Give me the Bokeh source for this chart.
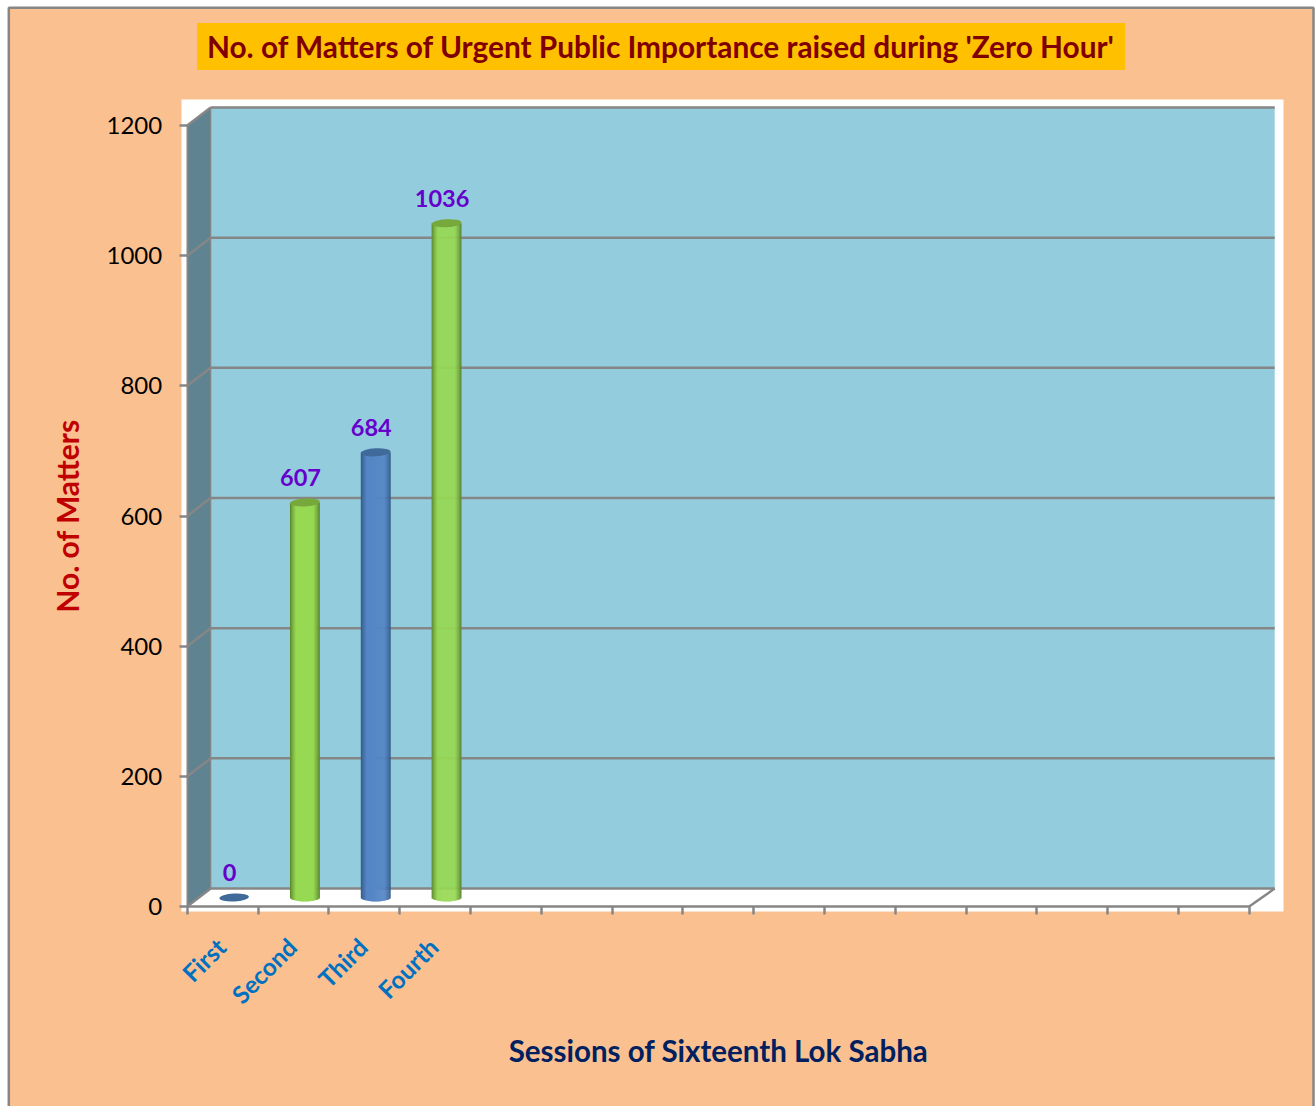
import math
from bokeh.core.properties import value
from bokeh.embed import file_html
from bokeh.models import ColumnDataSource, FixedTicker, Label, LinearAxis, Range1d
from bokeh.plotting import figure
from bokeh.resources import INLINE

sessions = ["First", "Second", "Third", "Fourth"]
matters = [0, 607, 684, 1036]
bar_palette = ["blue", "green", "blue", "green"]
y_ticks = [0, 200, 400, 600, 800, 1000, 1200]
slot_count = 15
chart_title = "No. of Matters of Urgent Public Importance raised during 'Zero Hour'"
x_title = "Sessions of Sixteenth Lok Sabha"
y_title = "No. of Matters"

FONT = "Lato"
PANEL = "#FAC090"
WALL = "#93CDDD"
SIDE = "#5F8391"
GRID = "#868686"

PX_X = 70.8          # pixels per session slot
PX_Y = 781 / 1200    # pixels per matter
DX = 24.5 / PX_X     # 3D depth in slot units
DY = 18 / PX_Y       # 3D depth in matter units
DX_L = DX - 1 / PX_X
DX_R = DX + 1 / PX_X

ORIGIN_X, ORIGIN_Y = 186.7, 906
WIDTH, HEIGHT = 1315, 1106


def X(px):
    return (px - ORIGIN_X) / PX_X


def Y(px):
    return (ORIGIN_Y - px) / PX_Y


p = figure(
    width=WIDTH, height=HEIGHT, output_backend="svg", toolbar_location=None,
    x_range=Range1d(X(0), X(WIDTH)), y_range=Range1d(Y(HEIGHT), Y(0)),
    min_border=0, x_axis_type=None, y_axis_type=None,
    background_fill_color="white", border_fill_color="white", outline_line_color=None,
)
p.grid.visible = False

# page panel and the white plot area behind the 3D box
p.quad(left=X(8.3), right=X(1313), top=Y(7.2), bottom=Y(HEIGHT + 10), fill_color=PANEL,
       fill_alpha=1, line_color=GRID, line_width=2.5)
p.quad(left=X(181), right=X(1283), top=Y(99), bottom=Y(911), fill_color="white",
       fill_alpha=1, line_color=None)

# 3D box: back wall, side wall
p.patch([DX_L, slot_count + DX_R, slot_count + DX_R, DX_L],
        [DY, DY, 1200 + DY, 1200 + DY], fill_color=WALL, fill_alpha=1, line_color=None)
p.patch([0, DX_L, DX_L, 0], [0, DY, 1200 + DY, 1200], fill_color=SIDE, fill_alpha=1, line_color=None)

# gridlines run along the back wall and down the side wall
for t in y_ticks:
    p.line([DX_L, slot_count + DX_R], [t + DY, t + DY], line_color=GRID, line_width=2.5)
    p.line([0, DX_L], [t, t + DY], line_color=GRID, line_width=2.5)
p.line([DX_L, DX_L], [DY, 1200 + DY], line_color=GRID, line_width=1.2)
p.line([slot_count, slot_count + DX_R], [0, DY], line_color=GRID, line_width=2.5)

# cylinders, built from narrow shaded strips
SHADES = {
    "green": ((0x55, 0x7E, 0x28), (0x97, 0xD9, 0x53), "#76A83C"),
    "blue": ((0x2F, 0x55, 0x82), (0x55, 0x86, 0xC6), "#3F6A9A"),
}
BAR_W = 29.5 / PX_X
RY = 4.0 / PX_Y
STRIPS = 30
cx_list = [i + 0.5 + DX / 2 - 0.7 / PX_X for i in range(len(matters))]

sx, sb, st, sc = [], [], [], []
for cx, v, name in zip(cx_list, matters, bar_palette):
    if v <= 0:
        continue
    edge, mid, _ = SHADES[name]
    for k in range(STRIPS):
        u = (k + 0.5) / STRIPS * 2 - 1
        mix = min(1.0, (1 - abs(u)) / 0.42) ** 0.7
        col = tuple(round(a + (b - a) * mix) for a, b in zip(edge, mid))
        sx.append(cx + u * BAR_W / 2)
        sb.append(DY / 2 - RY * math.sqrt(1 - u * u))
        st.append(v + DY / 2)
        sc.append("#%02X%02X%02X" % col)
p.vbar(x="x", bottom="b", top="t", width=1.4 / PX_X, fill_color="c", fill_alpha=1,
       line_color=None, source=ColumnDataSource(dict(x=sx, b=sb, t=st, c=sc)))
p.ellipse(x=cx_list, y=[v + DY / 2 for v in matters], width=BAR_W, height=2 * RY,
          angle=math.radians(3), fill_alpha=1,
          fill_color=[SHADES[n][2] for n in bar_palette], line_color=None)

# value labels
p.text(x=cx_list, y=[v + DY / 2 for v in matters], text=[str(v) for v in matters],
       x_offset=-4.5, y_offset=-25, text_align="center", text_baseline="middle",
       text_font=value(FONT), text_font_style="bold", text_font_size="23.5px",
       text_color="#6600CC")

# axes
yaxis = LinearAxis(ticker=FixedTicker(ticks=y_ticks), bounds=(0, 1200), fixed_location=0,
                   axis_line_color=GRID, axis_line_width=2,
                   major_tick_line_color=GRID, major_tick_line_width=2.5,
                   major_tick_in=0, major_tick_out=8, minor_tick_in=0, minor_tick_out=0,
                   major_label_standoff=17, major_label_text_font=FONT,
                   major_label_text_font_size="24px", major_label_text_color="#000000",
                   axis_label=y_title, axis_label_text_font=FONT,
                   axis_label_text_font_style="bold", axis_label_text_font_size="30px",
                   axis_label_text_color="#C00000", axis_label_standoff=19)
p.add_layout(yaxis, "left")

xaxis = LinearAxis(
    ticker=FixedTicker(ticks=[i + 0.48 for i in range(len(sessions))],
                       minor_ticks=list(range(slot_count + 1))),
    major_label_overrides={i + 0.48: s for i, s in enumerate(sessions)},
    bounds=(0, slot_count), fixed_location=0,
    axis_line_color=GRID, axis_line_width=2.5,
    major_tick_line_color=None, major_tick_in=0, major_tick_out=8,
    minor_tick_line_color=GRID, minor_tick_line_width=2.5, minor_tick_in=0, minor_tick_out=8,
    major_label_orientation=math.pi / 4, major_label_standoff=28,
    major_label_text_font=FONT, major_label_text_font_style="bold",
    major_label_text_font_size="24.4px", major_label_text_color="#0070C0",
    axis_label=x_title, axis_label_text_font=FONT, axis_label_text_font_style="bold",
    axis_label_text_font_size="29.5px", axis_label_text_color="#002060",
    axis_label_standoff=11)
p.add_layout(xaxis, "below")

# title banner
p.add_layout(Label(x=X(660.5), y=Y(46), text=chart_title,
                   text_align="center", text_baseline="middle", text_font=FONT,
                   text_font_style="bold", text_font_size="29.8px", text_color="#7F0000",
                   background_fill_color="#FFC000", padding=(10, 6)))

open("out.html", "w").write(file_html(p, INLINE))
